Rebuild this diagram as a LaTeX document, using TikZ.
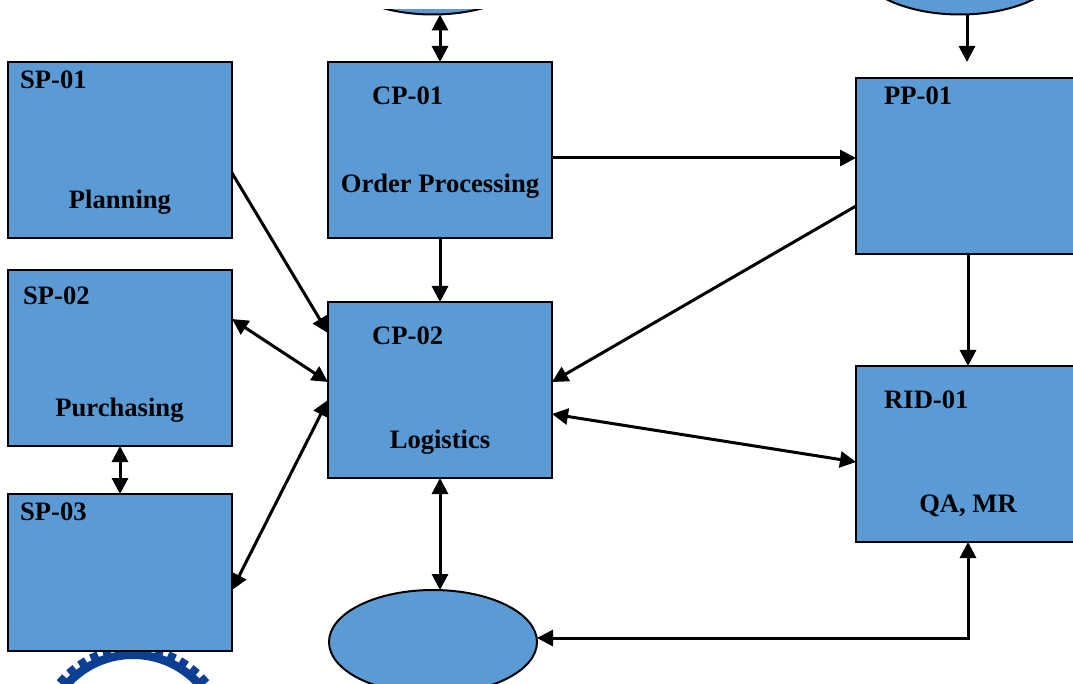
\documentclass[tikz,border=0pt]{standalone}
\usepackage{fontspec}
\setmainfont{Liberation Serif}
\usetikzlibrary{arrows.meta,calc,shapes.geometric}
\definecolor{boxblue}{HTML}{5B9BD5}
\definecolor{gearblue}{HTML}{0B3F96}
\tikzset{
  x=1pt,y=-1pt,
  box/.style={draw=black,line width=2pt,fill=boxblue,rectangle,anchor=north west,inner sep=0pt,outer sep=0pt,minimum width=224pt},
  oval/.style={draw=black,line width=2pt,fill=boxblue,ellipse,inner sep=0pt,outer sep=0pt,minimum width=208pt,minimum height=104pt},
  lbl/.style={font=\fontsize{26.6pt}{30pt}\selectfont\bfseries,inner sep=0pt,text=black},
  lblleft/.style={lbl,anchor=base west},
  lblmid/.style={lbl,anchor=base},
  conn/.style={line width=3pt,draw=black,arrows={-Triangle[length=16pt,width=16pt]}},
  both/.style={line width=3pt,draw=black,arrows={Triangle[length=16pt,width=16pt]-Triangle[length=16pt,width=16pt]}}
}
\begin{document}
\begin{tikzpicture}
\useasboundingbox (0,0) rectangle (1073,684);
\clip (0,0) rectangle (1073,684);
% logo fragment
\fill[gearblue,even odd rule] (133,743.5) circle[radius=93pt] (133,743.5) circle[radius=84.5pt];
\foreach \a in {0,8,...,352}{
  \fill[gearblue,rotate around={\a:(133,743.5)}] (129,652) rectangle (137,644.5);
}
% boxes
\node[box,minimum height=176pt] (sp1) at (8,62) {};
\node[box,minimum height=176pt] (sp2) at (8,270) {};
\node[box,minimum height=157pt] (sp3) at (8,494) {};
\node[box,minimum height=176pt] (cp1) at (328,62) {};
\node[box,minimum height=176pt] (cp2) at (328,302) {};
\node[box,minimum height=176pt] (pp1) at (856,78) {};
\node[box,minimum height=176pt] (rid) at (856,366) {};
% ovals
\node[oval] (obottom) at (433,642) {};
\begin{scope}
\clip (300,10) rectangle (600,40);
\node[oval] (otop) at (433,-37.5) {};
\end{scope}
\node[oval] (oright) at (960,-37.5) {};
% labels
\node[lblleft] (t1) at (20,88.5) {SP-01};
\node[lblmid] (t2) at (120,208.5) {Planning};
\node[lblleft] (t3) at (23,304.5) {SP-02};
\node[lblmid] (t4) at (119.5,416.5) {Purchasing};
\node[lblleft] (t5) at (20,520.5) {SP-03};
\node[lblleft] (t6) at (372,104.5) {CP-01};
\node[lblmid] (t7) at (440,192.5) {Order Processing};
\node[lblleft] (t8) at (372,344.5) {CP-02};
\node[lblmid] (t9) at (440,448.5) {Logistics};
\node[lblleft] (t10) at (884,104.5) {PP-01};
\node[lblleft] (t11) at (884,408.5) {RID-01};
\node[lblmid] (t12) at (968,512.5) {QA, MR};
% connectors
\coordinate (ppin) at ($(pp1.north west)+(111,-16)$);
\draw[conn] ($(oright.south)+(7,0)$) -- (ppin);
\draw[both] ($(otop.south)+(7,0)$) -- (cp1.north);
\draw[conn] ($(sp1.north east)+(0,111)$) -- ($(cp2.north west)+(0,31)$);
\draw[both] ($(sp2.north east)+(0,49)$) -- ($(cp2.north west)+(0,80)$);
\draw[both] ($(sp3.north east)+(0,96)$) -- ($(cp2.north west)+(0,98)$);
\draw[both] (sp2.south) -- (sp3.north);
\draw[conn] (cp1.south) -- (cp2.north);
\draw[conn] ($(cp1.north east)+(0,96)$) -- ($(pp1.north west)+(0,80)$);
\draw[conn] ($(pp1.north west)+(0,128)$) -- ($(cp2.north east)+(0,80)$);
\draw[conn] (pp1.south) -- (rid.north);
\draw[both] ($(cp2.north east)+(0,112)$) -- ($(rid.north west)+(0,96)$);
\draw[both] (cp2.south) -- ($(obottom.north)+(7,0)$);
\draw[both] (obottom.east |- 0,638) -- (968,638) -- (rid.south);
\end{tikzpicture}
\end{document}
